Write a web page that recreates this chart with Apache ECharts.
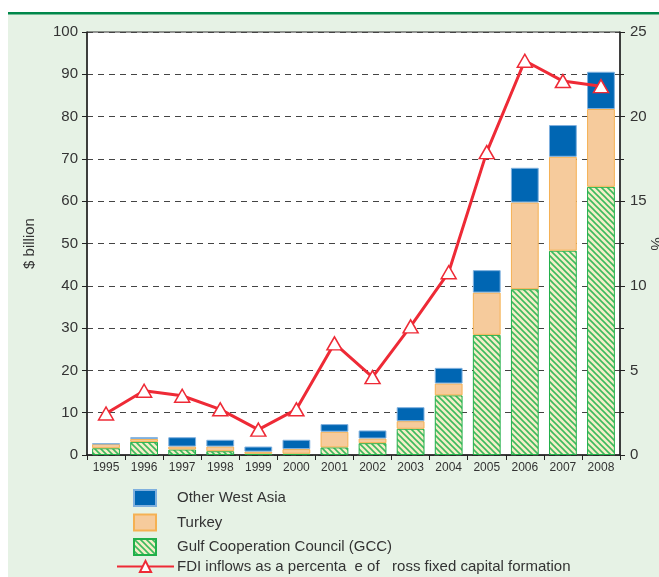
<!DOCTYPE html>
<html>
<head>
<meta charset="utf-8">
<script src="https://cdn.jsdelivr.net/npm/echarts@6/dist/echarts.min.js"></script>
<style>
  html, body { margin: 0; padding: 0; background: #ffffff; }
  #chart { width: 659px; height: 577px; }
</style>
</head>
<body>
<div id="chart"></div>
<script>
// FDI inflows to West Asia, 1995-2008
const years = ['1995','1996','1997','1998','1999','2000','2001','2002','2003','2004','2005','2006','2007','2008'];
const gcc    = [1.6, 3.1, 1.3, 0.9, 0.3, 0.3, 1.8, 2.8, 6.2, 14.1, 28.4, 39.2, 48.3, 63.4];
const turkey = [1.0, 0.7, 0.7, 1.1, 0.5, 1.1, 3.7, 1.1, 1.8, 2.8, 10.0, 20.5, 22.2, 18.4];
const otherWestAsia = [0.1, 0.4, 2.2, 1.6, 1.2, 2.2, 1.8, 1.9, 3.3, 3.7, 5.3, 8.2, 7.5, 8.8];
const fdiShare = [2.45, 3.8, 3.5, 2.7, 1.5, 2.7, 6.6, 4.6, 7.6, 10.8, 17.9, 23.3, 22.1, 21.8];

const seriesNames = {
  other: 'Other West Asia',
  turkey: 'Turkey',
  gcc: 'Gulf Cooperation Council (GCC)',
  fdi: 'FDI inflows as a percenta  e of   ross fixed capital formation'
};

// Diagonal hatch fill for the GCC bars
function hatchPattern() {
  const c = document.createElement('canvas');
  c.width = 6; c.height = 6;
  const g = c.getContext('2d');
  g.fillStyle = '#f4eec8';
  g.fillRect(0, 0, 6, 6);
  g.strokeStyle = '#3dba5e';
  g.lineWidth = 1.6;
  g.beginPath();
  g.moveTo(-1, -1); g.lineTo(7, 7);
  g.moveTo(-4, 2); g.lineTo(4, 10);
  g.moveTo(2, -4); g.lineTo(10, 4);
  g.stroke();
  return c;
}

const chart = echarts.init(document.getElementById('chart'), null, { renderer: 'canvas' });
const txt = '#333333';
const font = 'Liberation Sans, Arial, sans-serif';

chart.setOption({
  backgroundColor: '#ffffff',
  animation: false,
  graphic: [
    { type: 'rect', z: -10, shape: { x: 8, y: 14, width: 651, height: 563 }, style: { fill: '#e6f2e5' } },
    { type: 'rect', z: -9, shape: { x: 8, y: 12, width: 651, height: 2.5 }, style: { fill: '#00874a' } },
    // right-hand axis title, rotated
    {
      type: 'text', x: 655, y: 244, rotation: -Math.PI / 2, z: 10,
      style: { text: '%', fill: txt, font: '15px ' + font, align: 'center', verticalAlign: 'middle' }
    }
  ],
  grid: {
    left: 87, right: 39, top: 32, bottom: 122,
    containLabel: false, outerBoundsMode: 'none',
    show: true, backgroundColor: '#ffffff', borderColor: '#333333', borderWidth: 1
  },
  legend: [
    {
      orient: 'vertical', left: 133, top: 489, padding: 0,
      itemWidth: 22, itemHeight: 16, itemGap: 6.5, icon: 'rect',
      data: [seriesNames.other, seriesNames.turkey, seriesNames.gcc],
      textStyle: { color: txt, fontSize: 15, fontFamily: font, padding: [0, 0, 0, 16] }
    },
    {
      orient: 'vertical', left: 116, top: 559, padding: 0,
      itemWidth: 57, itemHeight: 14,
      data: [seriesNames.fdi],
      textStyle: { color: txt, fontSize: 15, fontFamily: font, padding: [0, 0, 0, -2] }
    }
  ],
  xAxis: {
    type: 'category', data: years, boundaryGap: true,
    axisLine: { lineStyle: { color: '#222', width: 1.5 } },
    axisTick: { show: true, alignWithLabel: false, length: 5, lineStyle: { color: '#222' } },
    axisLabel: { color: txt, fontSize: 12, fontFamily: font, margin: 7, interval: 0 }
  },
  yAxis: [
    {
      type: 'value', min: 0, max: 100, interval: 10,
      name: '$ billion', nameLocation: 'middle', nameGap: 50, nameRotate: 90,
      nameTextStyle: { color: txt, fontSize: 15, fontFamily: font },
      axisLine: { show: true, lineStyle: { color: '#222', width: 1.5 } },
      axisTick: { show: true, length: 5, lineStyle: { color: '#222' } },
      axisLabel: { color: txt, fontSize: 15, fontFamily: font, margin: 9 },
      splitLine: { show: true, lineStyle: { color: '#444', type: [6, 5], width: 1 } }
    },
    {
      type: 'value', min: 0, max: 25, interval: 5, position: 'right',
      axisLine: { show: true, lineStyle: { color: '#222', width: 1.5 } },
      axisTick: { show: true, length: 5, lineStyle: { color: '#222' } },
      minorTick: { show: true, splitNumber: 2, length: 4, lineStyle: { color: '#222' } },
      axisLabel: { color: txt, fontSize: 15, fontFamily: font, margin: 10 },
      splitLine: { show: false }
    }
  ],
  series: [
    {
      name: seriesNames.gcc, type: 'bar', stack: 'fdi', data: gcc,
      barCategoryGap: '27%',
      itemStyle: { color: { image: hatchPattern(), repeat: 'repeat' }, borderColor: '#22b04a', borderWidth: 1 }
    },
    {
      name: seriesNames.turkey, type: 'bar', stack: 'fdi', data: turkey,
      itemStyle: { color: '#f6cb9c', borderColor: '#f5b153', borderWidth: 1 }
    },
    {
      name: seriesNames.other, type: 'bar', stack: 'fdi', data: otherWestAsia,
      itemStyle: { color: '#0066b3', borderColor: '#7fb0de', borderWidth: 1 }
    },
    {
      name: seriesNames.fdi, type: 'line', yAxisIndex: 1, data: fdiShare,
      symbol: 'triangle', symbolSize: [15, 13],
      lineStyle: { color: '#ee2a36', width: 3 },
      itemStyle: { color: '#ffffff', borderColor: '#ee2a36', borderWidth: 1.5 },
      z: 5
    }
  ]
});
</script>
</body>
</html>
